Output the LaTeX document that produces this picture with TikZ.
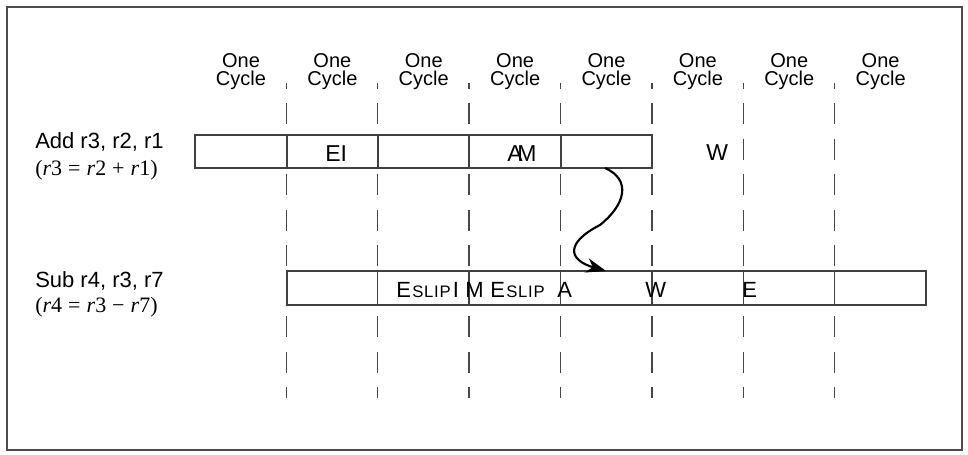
\documentclass[tikz,border=0pt]{standalone}
\usepackage{fontspec}
\setmainfont{Liberation Serif}
\setsansfont{Liberation Sans}
\usetikzlibrary{arrows.meta}
\newcommand{\slipsc}{{\fontsize{12.5}{13}\selectfont S\kern0.6pt L\kern0.6pt I\kern0.6pt P}}
\newcommand{\opsp}{\hspace{4.5pt}}

\begin{document}
\begin{tikzpicture}[x=0.75pt,y=-0.75pt,
    cyc/.style={font=\sffamily\fontsize{15}{13.5}\selectfont,align=center,inner sep=0pt},
    lbl/.style={font=\sffamily\fontsize{16.5}{16}\selectfont,anchor=base west,inner sep=0pt},
    eqn/.style={font=\rmfamily\fontsize{16.5}{16}\selectfont,anchor=base west,inner sep=0pt},
    stg/.style={font=\sffamily\fontsize{17.25}{18}\selectfont,anchor=base west,inner sep=0pt},
    stgb/.style={font=\sffamily\fontsize{16.5}{16}\selectfont,anchor=base west,inner sep=0pt},
    divider/.style={draw=black!72,line width=1.1pt,dash pattern=on 15.75pt off 10.9pt,dash phase=11.6pt},
    pipe/.style={draw=black!75,fill=white,line width=1.1pt},
    cell/.style={draw=black!75,line width=1.1pt}]
  \useasboundingbox (0,0) rectangle (968,454);
  \draw[black!70,line width=1.2pt] (7,7) rectangle (962,450);
  % column headings and cycle boundaries
  \foreach \i in {0,...,7}
    \node[cyc] (cyc\i) at (241+91.375*\i,72) {One\\Cycle};
  \foreach \i in {1,...,7}
    \draw[divider] (195+91.375*\i,83) -- (195+91.375*\i,398);
  % add instruction
  \draw[pipe] (195,135) rectangle (652,168);
  \draw[cell] (287,135) -- (287,168)  (561,135) -- (561,168);
  \draw[cell,line width=2pt] (378,135) -- (378,168)  (469,135) -- (469,168);
  % sub instruction
  \draw[pipe] (287,271) rectangle (926,305);
  \foreach \i in {2,...,7}
    \draw[cell] (195+91.375*\i,271) -- ++(0,34);
  \node[lbl] (add) at (35,148) {Add r3, r2, r1};
  \node[eqn] (addeq) at (35,175) {(\textit{r}3\opsp=\opsp\textit{r}2\opsp+\opsp\textit{r}1)};
  \node[lbl] (sub) at (35,287) {Sub r4, r3, r7};
  \node[eqn] (subeq) at (35,312) {(\textit{r}4\opsp=\opsp\textit{r}3\opsp−\opsp\textit{r}7)};
  \node[stg] (ei) at (325,161) {EI};
  \node[stg] (am) at (507,161) {A\kern-4pt M};
  \node[stg] (w1) at (706,160) {W};
  \node[stgb] (e1) at (396,297) {E\kern1pt\slipsc\kern1.5pt I};
  \node[stgb] (m2) at (465,297) {M};
  \node[stgb] (e2) at (490,297) {E\kern1pt\slipsc};
  \node[stgb] (a2) at (557,297) {A};
  \node[stgb] (w2) at (645,297) {W};
  \node[stgb] (e3) at (742,297) {E};
  % forwarding
  \coordinate (fwdsrc) at (605,168);
  \coordinate (fwddst) at (606,271);
  \draw[-{Stealth[length=15pt,width=11pt]},line width=1.6pt] (fwdsrc) .. controls (632,180) and (625,205) .. (600,225) .. controls (565,243) and (568,260) .. (fwddst);
\end{tikzpicture}
\end{document}
